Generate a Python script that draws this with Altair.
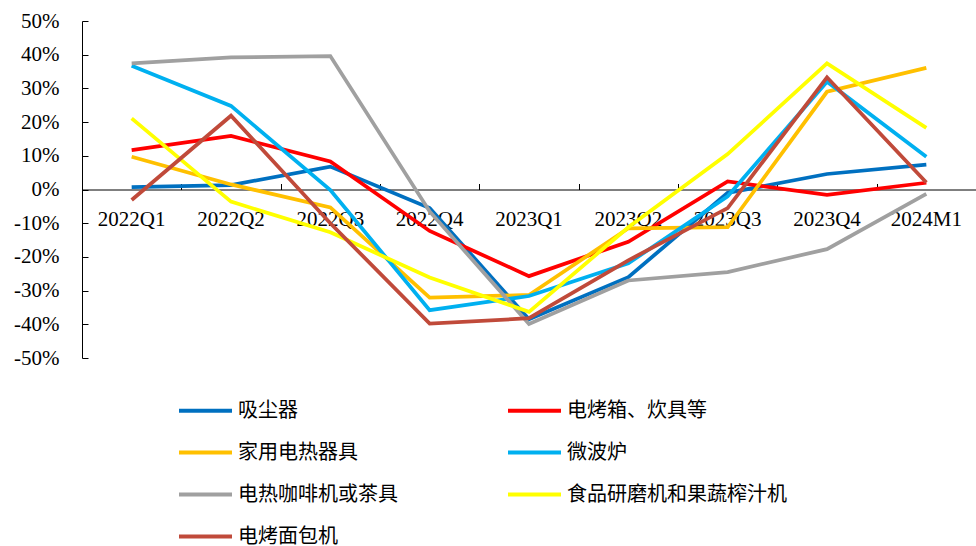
import altair as alt
import pandas as pd

periods = ["2022Q1", "2022Q2", "2022Q3", "2022Q4", "2023Q1", "2023Q2", "2023Q3", "2023Q4", "2024M1"]

series = ["吸尘器", "电烤箱、炊具等", "家用电热器具", "微波炉",
          "电热咖啡机或茶具", "食品研磨机和果蔬榨汁机", "电烤面包机"]

# legend is filled column by column: this order gives the reference's row layout
legend_order = ["吸尘器", "家用电热器具", "电热咖啡机或茶具", "电烤面包机",
                "电烤箱、炊具等", "微波炉", "食品研磨机和果蔬榨汁机"]

colors = ["#0070C0", "#FF0000", "#FFC000", "#00B0F0", "#A0A0A0", "#FFFF00", "#C04A3A"]

vacuum = [0.7, 1.3, 6.8, -5.5, -38.5, -26.0, -1.0, 4.6, 7.4]
oven = [11.7, 15.9, 8.3, -12.3, -25.7, -15.5, 2.4, -1.6, 2.0]
heater = [9.7, 1.5, -5.3, -32.1, -31.3, -11.5, -11.2, 29.0, 36.1]
microwave = [36.7, 24.8, -0.2, -35.8, -31.6, -21.9, -2.0, 32.0, 9.7]
coffee = [37.4, 39.2, 39.6, -6.5, -39.9, -27.0, -24.5, -17.7, -1.3]
grinder = [21.1, -3.6, -12.7, -26.1, -36.3, -11.2, 10.5, 37.4, 18.3]
toaster = [-3.1, 21.9, -10.0, -39.8, -38.2, -21.0, -5.5, 33.3, 2.1]

y_ticks = [-50, -40, -30, -20, -10, 0, 10, 20, 30, 40, 50]

values = [vacuum, oven, heater, microwave, coffee, grinder, toaster]
rows = []
for name, vals in zip(series, values):
    for p, v in zip(periods, vals):
        rows.append({"period": p, "series": name, "value": v})
df = pd.DataFrame(rows)

W, H = 894, 337
SERIF = "Liberation Serif"
CJK = "Noto Sans CJK SC"

xscale = alt.Scale(type="band", paddingInner=0, paddingOuter=0)
yscale = alt.Scale(domain=[-50, 50], nice=False)

lines = alt.Chart(df).mark_line(strokeWidth=3.75).encode(
    x=alt.X("period:N", sort=periods, bandPosition=0.5, scale=xscale,
            axis=alt.Axis(orient="bottom", offset=-H / 2, domain=False, ticks=False,
                          labelPadding=19, labelFont=SERIF, labelFontSize=21,
                          labelColor="black", labelAngle=0, title=None, grid=False)),
    y=alt.Y("value:Q", scale=yscale,
            axis=alt.Axis(orient="left", values=y_ticks, labelExpr="datum.value + '%'",
                          domain=True, domainColor="black", domainWidth=1, ticks=False,
                          labelPadding=23, labelFont=SERIF, labelFontSize=21,
                          labelColor="black", title=None, grid=False)),
    color=alt.Color("series:N", sort=series,
                    scale=alt.Scale(domain=series, range=colors),
                    legend=alt.Legend(orient="none", legendX=95, legendY=361, columns=2,
                                      values=legend_order,
                                      symbolType="stroke", symbolSize=2809,
                                      symbolStrokeWidth=4, labelFont=CJK,
                                      labelFontSize=20, labelColor="black", labelOffset=4,
                                      rowPadding=3, columnPadding=102, title=None,
                                      padding=0, labelLimit=400)),
)

guides = alt.Chart(df).mark_point(opacity=0).encode(
    x=alt.X("period:N", sort=periods, bandPosition=0.5, scale=xscale,
            axis=alt.Axis(orient="top", offset=-H / 2, domain=True, domainColor="black",
                          domainWidth=1, ticks=True, tickBand="extent", tickSize=6,
                          tickColor="black", labels=False, title=None, grid=False)),
    y=alt.Y("value:Q", scale=yscale,
            axis=alt.Axis(orient="right", offset=-W, values=y_ticks, domain=False,
                          ticks=True, tickSize=6, tickColor="black", labels=False,
                          title=None, grid=False)),
)

chart = alt.layer(guides, lines).resolve_axis(x="independent", y="independent").properties(
    width=W, height=H,
    autosize=alt.AutoSizeParams(type="none"),
    padding={"left": 82, "top": 21, "right": 0, "bottom": 188},
).configure_view(strokeWidth=0)

chart.save("out.html", embed_options={"renderer": "svg", "actions": False})
